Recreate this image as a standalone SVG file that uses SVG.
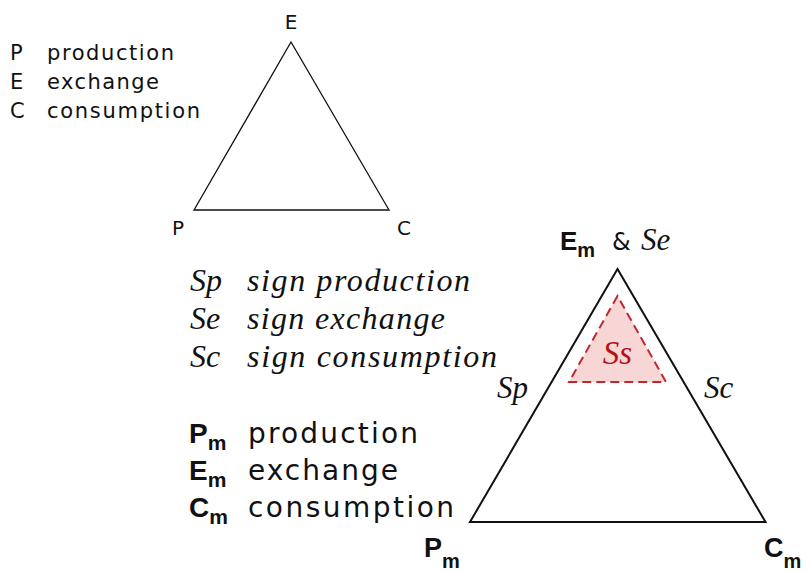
<svg xmlns="http://www.w3.org/2000/svg" width="807" height="571" viewBox="0 0 807 571">
<style>
.sans{font-family:"DejaVu Sans","Liberation Sans",sans-serif;fill:#111}
.bold{font-family:"Liberation Sans",Arial,sans-serif;font-weight:bold;fill:#111}
.it{font-family:"Liberation Serif","DejaVu Serif",serif;font-style:italic;fill:#111}
.tri{fill:none;stroke:#111;stroke-width:1.3}
.big{fill:none;stroke:#111;stroke-width:2}
.ss{fill:#f8d6d6;stroke:#c1272d;stroke-width:2;stroke-dasharray:9 5}
</style>
<rect width="807" height="571" fill="#fff"/>
<g id="legend1" class="sans" font-size="21">
<text x="10" y="60">P</text><text x="47" y="60" textLength="127">production</text>
<text x="10" y="89">E</text><text x="47" y="89" textLength="112">exchange</text>
<text x="10" y="118">C</text><text x="47" y="118" textLength="153">consumption</text>
</g>
<g id="small-triangle">
<polygon class="tri" points="291,42 194,210 389,210"/>
<text class="sans" font-size="20" x="291" y="29" text-anchor="middle">E</text>
<text class="sans" font-size="20" x="178" y="235" text-anchor="middle">P</text>
<text class="sans" font-size="20" x="404" y="235" text-anchor="middle">C</text>
</g>
<g id="legend2" class="it" font-size="32">
<text x="190" y="291">Sp</text><text x="247" y="291" textLength="223">sign production</text>
<text x="190" y="329">Se</text><text x="247" y="329" textLength="198">sign exchange</text>
<text x="190" y="367">Sc</text><text x="247" y="367" textLength="250">sign consumption</text>
</g>
<g id="legend3">
<text x="189" y="443"><tspan class="bold" font-size="28">P</tspan><tspan class="bold" font-size="21" dy="7">m</tspan></text>
<text class="sans" font-size="28" x="248" y="443" textLength="170">production</text>
<text x="189" y="480"><tspan class="bold" font-size="28">E</tspan><tspan class="bold" font-size="21" dy="7">m</tspan></text>
<text class="sans" font-size="28" x="248" y="480" textLength="150">exchange</text>
<text x="189" y="517"><tspan class="bold" font-size="28">C</tspan><tspan class="bold" font-size="21" dy="7">m</tspan></text>
<text class="sans" font-size="28" x="248" y="517" textLength="206">consumption</text>
</g>
<g id="big-triangle">
<polygon class="big" points="617.5,269 470,522 765.5,522"/>
</g>
<g id="ss-triangle">
<polygon class="ss" points="617.5,296 569,382 666,382"/>
<text class="it" x="617.5" y="364" font-size="33" text-anchor="middle" style="fill:#b3121b">Ss</text>
</g>
<g id="labels">
<text x="560" y="250"><tspan class="bold" font-size="26">E</tspan><tspan class="bold" font-size="20" dy="7">m</tspan></text>
<text class="sans" font-size="24" x="612" y="250">&amp;</text>
<text class="it" font-size="31" x="641" y="250">Se</text>
<text class="it" font-size="31" x="497" y="398">Sp</text>
<text class="it" font-size="31" x="704" y="398">Sc</text>
<text x="424" y="557"><tspan class="bold" font-size="27">P</tspan><tspan class="bold" font-size="20" dy="11">m</tspan></text>
<text x="764" y="557"><tspan class="bold" font-size="27">C</tspan><tspan class="bold" font-size="20" dy="11">m</tspan></text>
</g>
</svg>
